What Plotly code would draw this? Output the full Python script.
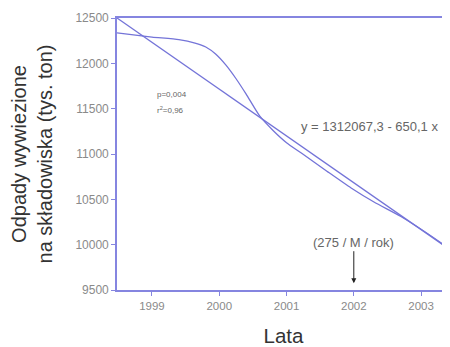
import plotly.graph_objects as go

# Smoothed curve (year, thousand tonnes)
curve_years = [1998.48, 1999.0, 1999.4, 1999.64, 1999.8, 1999.95, 2000.1, 2000.25, 2000.4, 2000.6,
               2000.8, 2001.0, 2001.22, 2001.6, 2001.96, 2002.3, 2002.7, 2003.1, 2003.43]
curve_values = [12335, 12290, 12262, 12224, 12180, 12100, 11980, 11830, 11660, 11420,
                11260, 11125, 11010, 10810, 10625, 10470, 10310, 10120, 9950]

# Linear trend line end points
trend_years = [1998.48, 2003.43]
trend_values = [12500, 9945]

tick_years = [1999, 2000, 2001, 2002, 2003]
tick_labels = ["1999", "2000", "2001", "2002", "2003"]
y_ticks = [9500, 10000, 10500, 11000, 11500, 12000, 12500]
y_tick_labels = ["9500", "10000", "10500", "11000", "11500", "12000", "12500"]

line_col = "#7474d8"
axis_col = "#8585e0"
font_fam = "Liberation Sans, Arial, sans-serif"

fig = go.Figure()
fig.add_trace(go.Scatter(x=curve_years, y=curve_values, mode="lines",
                         line=dict(color=line_col, width=1.3, shape="spline", smoothing=0.6),
                         showlegend=False, hoverinfo="skip"))
fig.add_trace(go.Scatter(x=trend_years, y=trend_values, mode="lines",
                         line=dict(color=line_col, width=1.3),
                         showlegend=False, hoverinfo="skip"))

# page body has an 8px default margin, so the figure is sized to end at 450x347
fig.update_layout(
    width=442, height=339,
    margin=dict(l=109, r=0, t=10, b=57, autoexpand=False),
    paper_bgcolor="white", plot_bgcolor="white",
    font=dict(family=font_fam, color="#333"),
    xaxis=dict(range=[1998.48, 2003.43], tickvals=tick_years, ticktext=tick_labels,
               automargin=False,
               showgrid=False, zeroline=False, showline=True, linecolor=axis_col, linewidth=1.6,
               mirror=True, ticks="outside", ticklen=4, tickcolor=axis_col,
               tickfont=dict(size=11.5, color="#8a8a8a"),
               title=dict(text="Lata", font=dict(size=20.5, color="#333"), standoff=18)),
    yaxis=dict(range=[9500, 12500], tickvals=y_ticks, ticktext=y_tick_labels,
               automargin=False,
               showgrid=False, zeroline=False, showline=True, linecolor=axis_col, linewidth=1.6,
               ticks="outside", ticklen=4, tickcolor=axis_col,
               tickfont=dict(size=12, color="#8a8a8a"),
               title=dict(text="Odpady wywiezione<br>na składowiska (tys. ton)",
                          font=dict(size=20, color="#333"), standoff=18)),
)

fig.add_annotation(x=1999.05, y=11660, text="p=0,004", showarrow=False,
                   xanchor="left", font=dict(size=8, color="#666"))
fig.add_annotation(x=1999.05, y=11490, text="r<sup>2</sup>=0,96", showarrow=False,
                   xanchor="left", font=dict(size=8, color="#666"))
fig.add_annotation(x=2002.24, y=11300, text="y = 1312067,3 - 650,1 x", showarrow=False,
                   font=dict(size=13, color="#666"))
fig.add_annotation(x=2002, y=9575, text="(275 / M / rok)", showarrow=True,
                   ax=0, ay=-41, arrowhead=2, arrowsize=1, arrowwidth=1, arrowcolor="#222",
                   font=dict(size=13, color="#666"))

fig.write_html("out.html")
